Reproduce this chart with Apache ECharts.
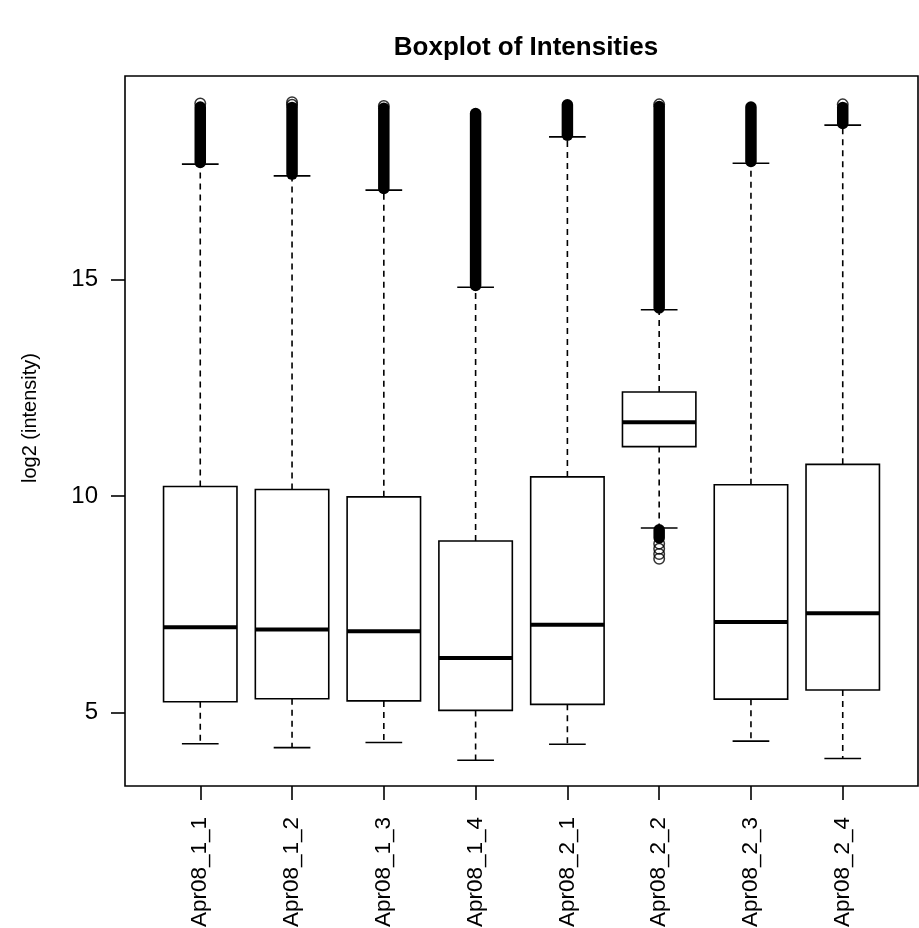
<!DOCTYPE html>
<html>
<head>
<meta charset="utf-8">
<script src="https://cdn.jsdelivr.net/npm/echarts@6/dist/echarts.min.js"></script>
<style>
  html, body { margin: 0; padding: 0; background: #fff; }
  #chart { width: 919px; height: 928px; }
</style>
</head>
<body>
<div id="chart"></div>
<script>
// Samples
const categories = ['Apr08_1_1', 'Apr08_1_2', 'Apr08_1_3', 'Apr08_1_4',
                    'Apr08_2_1', 'Apr08_2_2', 'Apr08_2_3', 'Apr08_2_4'];

// Five-number summaries of log2 intensity per sample
const lowerWhisker = [4.28, 4.19, 4.31, 3.90, 4.27, 9.26, 4.34, 3.94];
const q1           = [5.25, 5.32, 5.27, 5.05, 5.19, 11.14, 5.31, 5.52];
const medians      = [6.97, 6.92, 6.88, 6.26, 7.03, 11.70, 7.09, 7.29];
const q3           = [10.22, 10.15, 9.98, 8.96, 10.44, 12.40, 10.26, 10.73];
const upperWhisker = [17.66, 17.39, 17.06, 14.82, 18.29, 14.30, 17.68, 18.56];

// Runs of outliers so dense that their circles merge: [sample index, from, to]
const denseOutliers = [
  [0, 17.70, 18.98], [1, 17.43, 18.97], [2, 17.10, 18.95], [3, 14.86, 18.83],
  [4, 18.33, 19.03], [5, 14.34, 18.99], [6, 17.72, 18.98], [7, 18.60, 18.97],
  [5, 9.03, 9.22]
];
// Separate outlier points: [sample index, value]
const singleOutliers = [
  [0, 19.06], [1, 19.09], [1, 19.03], [2, 19.00], [5, 19.04], [7, 19.04],
  [5, 8.90], [5, 8.78], [5, 8.66], [5, 8.55]
];

// Y axis ticks
const yTicks = [5, 10, 15];

const FONT = 'Liberation Sans, Arial, Helvetica, sans-serif';

const boxData = categories.map((c, i) =>
  [i + 1, lowerWhisker[i], q1[i], medians[i], q3[i], upperWhisker[i]]);
const denseData = denseOutliers.map(d => [d[0] + 1, d[1], d[2]]);
const pointData = singleOutliers.map(d => [d[0] + 1, d[1]]);

const chart = echarts.init(document.getElementById('chart'), null, { renderer: 'canvas' });

function renderBox(params, api) {
  const x = api.value(0);
  const lw = api.value(1), lo = api.value(2), md = api.value(3), hi = api.value(4), uw = api.value(5);
  const half = 0.4, capHalf = 0.2;
  const pLoL = api.coord([x - half, lo]);
  const pHiR = api.coord([x + half, hi]);
  const pMdL = api.coord([x - half, md]);
  const pMdR = api.coord([x + half, md]);
  const cx = api.coord([x, 0])[0];
  const yUw = api.coord([x, uw])[1];
  const yLw = api.coord([x, lw])[1];
  const capL = api.coord([x - capHalf, 0])[0];
  const capR = api.coord([x + capHalf, 0])[0];
  const stroke = '#000';
  return {
    type: 'group',
    children: [
      { type: 'line', shape: { x1: cx, y1: pHiR[1], x2: cx, y2: yUw },
        style: { stroke, lineWidth: 1.6, lineDash: [6, 5] } },
      { type: 'line', shape: { x1: cx, y1: pLoL[1], x2: cx, y2: yLw },
        style: { stroke, lineWidth: 1.6, lineDash: [6, 5] } },
      { type: 'line', shape: { x1: capL, y1: yUw, x2: capR, y2: yUw },
        style: { stroke, lineWidth: 1.6 } },
      { type: 'line', shape: { x1: capL, y1: yLw, x2: capR, y2: yLw },
        style: { stroke, lineWidth: 1.6 } },
      { type: 'rect', shape: { x: pLoL[0], y: pHiR[1], width: pHiR[0] - pLoL[0], height: pLoL[1] - pHiR[1] },
        style: { fill: '#fff', stroke, lineWidth: 1.6 } },
      { type: 'line', shape: { x1: pMdL[0], y1: pMdL[1], x2: pMdR[0], y2: pMdR[1] },
        style: { stroke, lineWidth: 4 } }
    ]
  };
}

function renderDense(params, api) {
  const x = api.value(0);
  const a = api.coord([x, api.value(1)]);
  const b = api.coord([x, api.value(2)]);
  const w = 11.5;
  const top = Math.min(a[1], b[1]) - w / 2;
  const bottom = Math.max(a[1], b[1]) + w / 2;
  return {
    type: 'rect',
    shape: { x: a[0] - w / 2, y: top, width: w, height: bottom - top, r: w / 2 },
    style: { fill: '#000' }
  };
}

chart.setOption({
  backgroundColor: '#fff',
  animation: false,
  title: {
    text: 'Boxplot of Intensities',
    left: 521,
    top: 30,
    textAlign: 'center',
    textStyle: { fontFamily: FONT, fontSize: 26, fontWeight: 'bold', color: '#000' }
  },
  graphic: [
    {
      type: 'text',
      x: 30, y: 418,
      rotation: Math.PI / 2,
      style: {
        text: 'log2 (intensity)',
        fontFamily: FONT, fontSize: 20, fill: '#000',
        align: 'center', verticalAlign: 'middle'
      }
    }
  ],
  grid: {
    left: 125, top: 76, width: 793, height: 710,
    outerBoundsMode: 'none',
    containLabel: false,
    show: true, borderColor: '#000', borderWidth: 1.6, backgroundColor: '#fff'
  },
  xAxis: {
    type: 'value',
    min: 0.18, max: 8.82,
    axisLine: { show: false },
    splitLine: { show: false },
    axisTick: {
      show: true, length: 14, inside: false,
      customValues: categories.map((c, i) => i + 1),
      lineStyle: { color: '#000', width: 1.6 }
    },
    axisLabel: {
      show: true, rotate: 90, margin: 31,
      customValues: categories.map((c, i) => i + 1),
      formatter: v => categories[Math.round(v) - 1] || '',
      fontFamily: FONT, fontSize: 22.5, color: '#000'
    }
  },
  yAxis: {
    type: 'value',
    min: 3.305, max: 19.695,
    axisLine: { show: false },
    splitLine: { show: false },
    axisTick: {
      show: true, length: 14, inside: false,
      customValues: yTicks,
      lineStyle: { color: '#000', width: 1.6 }
    },
    axisLabel: {
      show: true, margin: 27,
      customValues: yTicks,
      fontFamily: FONT, fontSize: 24, color: '#000'
    }
  },
  series: [
    {
      type: 'custom',
      name: 'dense outliers',
      renderItem: renderDense,
      data: denseData,
      encode: { x: 0, y: [1, 2] },
      clip: false,
      z: 2
    },
    {
      type: 'scatter',
      name: 'outliers',
      data: pointData,
      symbol: 'circle',
      symbolSize: 10.5,
      itemStyle: { color: 'rgba(0,0,0,0)', borderColor: '#000', borderWidth: 1.5 },
      z: 3
    },
    {
      type: 'custom',
      name: 'boxes',
      renderItem: renderBox,
      data: boxData,
      encode: { x: 0, y: [1, 2, 3, 4, 5] },
      clip: false,
      z: 4
    }
  ]
});
</script>
</body>
</html>
